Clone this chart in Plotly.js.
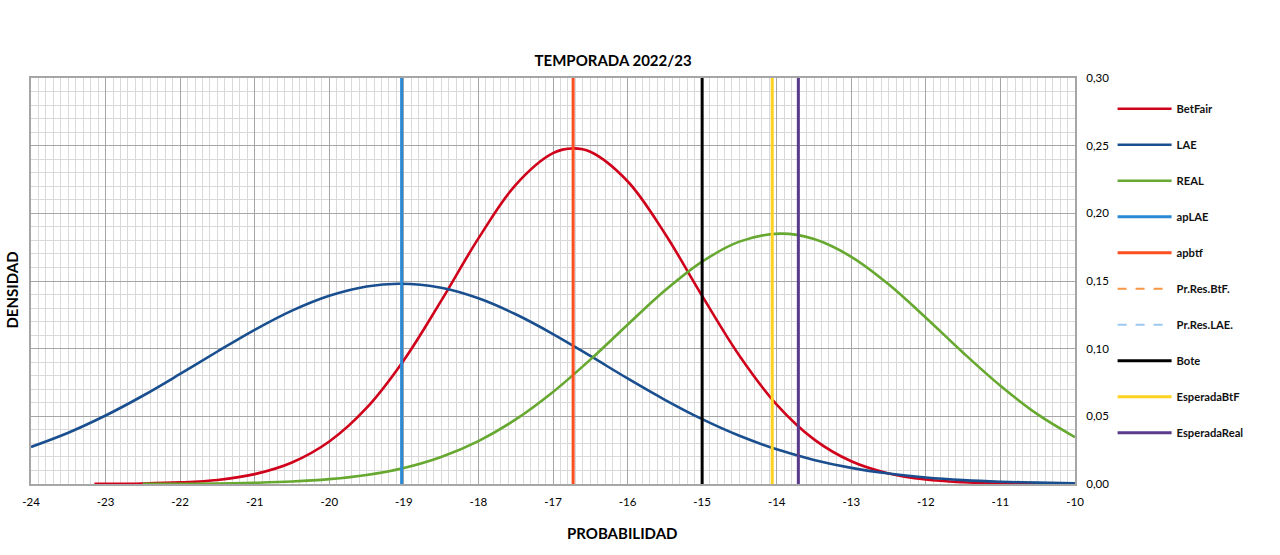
<!DOCTYPE html>
<html>
<head>
<meta charset="utf-8">
<script src="https://cdn.plot.ly/plotly-3.0.1.min.js"></script>
<style>html,body{margin:0;padding:0;background:#fff;}#chart{width:1280px;height:555px;}</style>
</head>
<body>
<div id="chart"></div>
<script>
// X values (probabilidad) at which the curves were read
const xBetFair = [-23.15,-22.5,-22,-21.5,-21,-20.5,-20,-19.5,-19,-18.5,-18,-17.5,-17,-16.73,-16.5,-16,-15.5,-15,-14.5,-14,-13.5,-13,-12.5,-12,-11.5,-11,-10.5,-10.3];
const yBetFair = [0.0001,0.0004,0.0012,0.0030,0.0073,0.0159,0.0314,0.0562,0.0915,0.1353,0.1815,0.2211,0.2445,0.2480,0.2455,0.2237,0.1851,0.1390,0.0948,0.0587,0.0330,0.0168,0.0078,0.0033,0.0013,0.0004,0.0001,0.0001];

const xLAE = [-24,-23.5,-23,-22.5,-22,-21.5,-21,-20.5,-20,-19.5,-19.05,-18.5,-18,-17.5,-17,-16.5,-16,-15.5,-15,-14.5,-14,-13.5,-13,-12.5,-12,-11.5,-11,-10.5,-10];
const yLAE = [0.0274,0.0379,0.0506,0.0652,0.0813,0.0979,0.1139,0.1281,0.1391,0.1460,0.1480,0.1450,0.1372,0.1254,0.1108,0.0946,0.0780,0.0622,0.0479,0.0356,0.0256,0.0178,0.0119,0.0077,0.0048,0.0029,0.0017,0.0010,0.0005];

const xREAL = [-22.5,-22,-21.5,-21,-20.5,-20,-19.5,-19,-18.5,-18,-17.5,-17,-16.5,-16,-15.5,-15,-14.5,-13.95,-13.5,-13,-12.5,-12,-11.5,-11,-10.5,-10];
const yREAL = [0.0001,0.0002,0.0004,0.0009,0.0018,0.0036,0.0067,0.0119,0.0200,0.0317,0.0477,0.0680,0.0919,0.1177,0.1429,0.1643,0.1791,0.1850,0.1810,0.1679,0.1476,0.1229,0.0970,0.0726,0.0514,0.0346];

// Vertical reference lines (x positions)
const apLAE = -19.03;
const apbtf = -16.73;
const bote = -15.0;
const esperadaBtF = -14.06;
const esperadaReal = -13.71;
const vLineSpan = [0, 0.30];

const xTickVals = [-24,-23,-22,-21,-20,-19,-18,-17,-16,-15,-14,-13,-12,-11,-10];
const xTickText = ['-24','-23','-22','-21','-20','-19','-18','-17','-16','-15','-14','-13','-12','-11','-10'];
const yTickVals = [0,0.05,0.10,0.15,0.20,0.25,0.30];
const yTickText = ['0,00','0,05','0,10','0,15','0,20','0,25','0,30'];

function curve(name, xs, ys, color, g) {
  return {type:'scatter', mode:'lines', name:name, x:xs, y:ys, legendgroup:g,
    line:{color:color, width:2.6, shape:'spline', smoothing:1}, hoverinfo:'skip'};
}
function vline(name, xv, color, g) {
  return {type:'scatter', mode:'lines', name:name, x:[xv,xv], y:vLineSpan, legendgroup:g,
    line:{color:color, width:3}, hoverinfo:'skip'};
}
function emptyDash(name, color, g) {
  return {type:'scatter', mode:'lines', name:name, x:[null], y:[null], legendgroup:g,
    line:{color:color, width:2, dash:'dash'}, hoverinfo:'skip'};
}

const traces = [
  curve('BetFair', xBetFair, yBetFair, '#d0021b', 'g1'),
  curve('LAE', xLAE, yLAE, '#1a4f8f', 'g2'),
  curve('REAL', xREAL, yREAL, '#66a830', 'g3'),
  vline('apLAE', apLAE, '#2a8ad6', 'g4'),
  vline('apbtf', apbtf, '#ff4f1f', 'g5'),
  emptyDash('Pr.Res.BtF.', '#f79646', 'g6'),
  emptyDash('Pr.Res.LAE.', '#9dc8ef', 'g7'),
  vline('Bote', bote, '#000000', 'g8'),
  vline('EsperadaBtF', esperadaBtF, '#ffd21f', 'g9'),
  vline('EsperadaReal', esperadaReal, '#5b3a8c', 'g10')
];

const layout = {
  width:1280, height:555,
  margin:{l:31, r:205, t:78, b:71},
  paper_bgcolor:'#ffffff', plot_bgcolor:'#ffffff',
  font:{family:'Lato, "Liberation Sans", sans-serif', size:11, color:'#000'},
  title:{text:'<b>TEMPORADA 2022/23</b>', x:0.479, xanchor:'center', y:0.89, yanchor:'middle',
    font:{size:15, color:'#000', family:'Lato, sans-serif'}},
  showlegend:true,
  legend:{x:1.036, xanchor:'left', y:0.96, yanchor:'top', traceorder:'grouped', tracegroupgap:17,
    font:{size:11.2, color:'#111', family:'Lato, sans-serif', weight:'bold'}, itemwidth:54, bgcolor:'rgba(0,0,0,0)'},
  xaxis:{range:[-24,-10], tickvals:xTickVals, ticktext:xTickText, showgrid:true, gridcolor:'#a6a6a6', gridwidth:1,
    minor:{dtick:0.1, tick0:-24, showgrid:true, gridcolor:'#d9d9d9', gridwidth:1},
    showline:true, linecolor:'#a6a6a6', linewidth:2, mirror:true, zeroline:false,
    ticks:'outside', ticklen:6, tickcolor:'rgba(0,0,0,0)', tickfont:{size:11.5}},
  yaxis:{range:[0,0.30], side:'right', tickvals:yTickVals, ticktext:yTickText, showgrid:true, gridcolor:'#a6a6a6', gridwidth:1,
    minor:{dtick:0.01, tick0:0, showgrid:true, gridcolor:'#d9d9d9', gridwidth:1},
    showline:true, linecolor:'#a6a6a6', linewidth:2, mirror:true, zeroline:false,
    ticks:'outside', ticklen:7, tickcolor:'rgba(0,0,0,0)', tickfont:{size:11.5}},
  annotations:[
    {text:'<b>DENSIDAD</b>', xref:'paper', yref:'paper', x:-0.0185, y:0.478, xanchor:'center', yanchor:'middle',
      textangle:-90, showarrow:false, font:{size:15, color:'#000'}},
    {text:'<b>PROBABILIDAD</b>', xref:'paper', yref:'paper', x:0.566, y:-0.1207, xanchor:'center', yanchor:'middle',
      showarrow:false, font:{size:15, color:'#000'}}
  ]
};

Plotly.newPlot('chart', traces, layout, {displayModeBar:false, staticPlot:true});
</script>
</body>
</html>
